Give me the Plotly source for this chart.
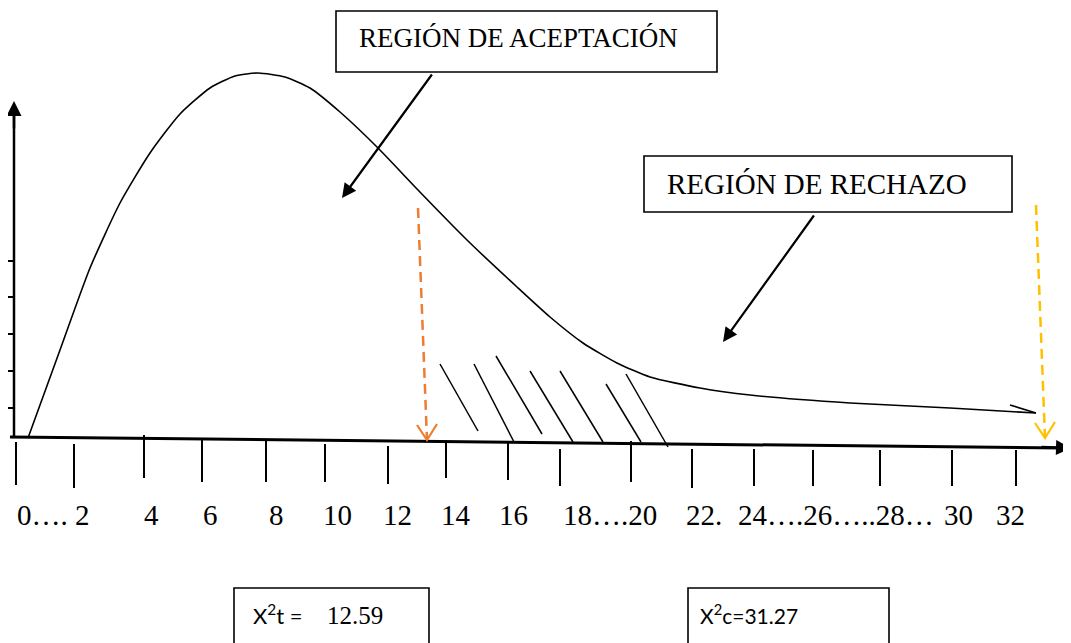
import plotly.graph_objects as go

# drawing units: x to the right, y downward (same scale as the 1071x643 page)
W, H = 1071, 643
PAD = 8  # page body margin, compensated in the axis ranges

# density curve (hand drawn chi-square shape)
curve_x = [28, 60, 90, 120, 150, 180, 210, 235, 258, 285, 310, 340, 378, 418,
           467, 517, 550, 583, 617, 650, 700, 750, 850, 950, 1036]
curve_y = [438, 350, 268, 203, 153, 114, 88, 76, 73, 77, 88, 112, 148, 190,
           240, 287, 317, 343, 363, 377, 388, 395, 403, 408, 413]
hook_x = [1036, 1010]
hook_y = [413, 405]

# hatching of the rejection zone
hatch_x0 = [440, 474, 496, 530, 560, 606, 626]
hatch_y0 = [364, 364, 356, 371, 371, 384, 374]
hatch_x1 = [478, 514, 542, 573, 603, 641, 668]
hatch_y1 = [431, 442, 434, 442, 442, 442, 447]

# horizontal axis and its ticks
x_axis_x = [10, 1062]
x_axis_y = [437, 448]
tick_x = [16, 74, 144, 202, 266, 325, 388, 446, 508, 560, 631, 692, 754, 813, 880, 952, 1016]
tick_top = [442, 444, 435, 440, 440, 444, 446, 440, 441, 449, 441, 449, 449, 450, 450, 450, 450]
tick_bot = [485, 488, 478, 482, 482, 482, 484, 478, 480, 486, 482, 488, 486, 486, 486, 486, 486]
tick_labels = ["0…. 2", "4", "6", "8", "10", "12", "14", "16", "18….20", "22.",
               "24….26…..28…", "30", "32"]
label_x = [15, 142, 201, 267, 321, 381, 439, 497, 561, 684, 736, 942, 994]
label_y = 515

# vertical axis and its ticks
y_axis_x = [14, 14]
y_axis_y = [437, 112]
ytick_y = [261, 297, 334, 371, 408]

# critical value markers
crit_t_x = [418, 427]
crit_t_y = [208, 440]
crit_c_x = [1036, 1045]
crit_c_y = [205, 438]

# text boxes: label, x0, y0, x1, y1, text x, text y, size
boxes = [
    ("REGIÓN DE ACEPTACIÓN", 336, 11, 717, 72, 357, 38, 27),
    ("REGIÓN DE RECHAZO", 644, 156, 1012, 212, 665, 184, 29),
]
value_boxes = [(234, 588, 429, 660), (688, 588, 889, 660)]
# value texts: text, x, y, font, size
value_texts = [
    ("X<sup>2</sup>t =", 251, 614, "Lato", 22),
    ("12.59", 325, 615, "Liberation Serif", 25),
    ("X<sup>2</sup>c=31.27", 698, 614, "Lato", 21),
]
pointer_tail = [(433, 73), (815, 214)]
pointer_tip = [(342, 198), (723, 342)]

fig = go.Figure()

fig.add_trace(go.Scatter(x=curve_x, y=curve_y, mode="lines",
                         line=dict(color="black", width=1.6, shape="spline", smoothing=0.6)))
fig.add_trace(go.Scatter(x=hook_x, y=hook_y, mode="lines", line=dict(color="black", width=1.6)))

hx, hy = [], []
for a, b, c, d in zip(hatch_x0, hatch_y0, hatch_x1, hatch_y1):
    hx += [a, c, None]
    hy += [b, d, None]
fig.add_trace(go.Scatter(x=hx, y=hy, mode="lines", line=dict(color="black", width=1.5)))

fig.add_trace(go.Scatter(x=x_axis_x, y=x_axis_y, mode="lines", line=dict(color="black", width=3)))
fig.add_trace(go.Scatter(x=y_axis_x, y=y_axis_y, mode="lines", line=dict(color="black", width=2.5)))

tx, ty = [], []
for x, t, b in zip(tick_x, tick_top, tick_bot):
    tx += [x, x, None]
    ty += [t, b, None]
fig.add_trace(go.Scatter(x=tx, y=ty, mode="lines", line=dict(color="black", width=2)))

yx, yy = [], []
for y in ytick_y:
    yx += [8, 14, None]
    yy += [y, y, None]
fig.add_trace(go.Scatter(x=yx, y=yy, mode="lines", line=dict(color="black", width=2)))

for xs, ys, col in [(crit_t_x, crit_t_y, "#ED7D31"), (crit_c_x, crit_c_y, "#FFC000")]:
    fig.add_trace(go.Scatter(x=xs, y=ys, mode="lines",
                             line=dict(color=col, width=2.5, dash="10px,6px")))
    # open V head
    fig.add_trace(go.Scatter(x=[xs[1] - 10, xs[1], xs[1] + 10], y=[ys[1] - 15, ys[1], ys[1] - 16],
                             mode="lines", line=dict(color=col, width=2.2)))

# axis arrowheads
fig.add_annotation(x=14, y=101, ax=14, ay=130, xref="x", yref="y", axref="x", ayref="y",
                   text="", showarrow=True, arrowhead=2, arrowsize=1.2, arrowwidth=2.5, arrowcolor="black")
fig.add_annotation(x=1071, y=448, ax=1040, ay=447, xref="x", yref="y", axref="x", ayref="y",
                   text="", showarrow=True, arrowhead=2, arrowsize=1.2, arrowwidth=2.5, arrowcolor="black")

for (ax_, ay_), (x_, y_) in zip(pointer_tail, pointer_tip):
    fig.add_annotation(x=x_, y=y_, ax=ax_, ay=ay_, xref="x", yref="y", axref="x", ayref="y",
                       text="", showarrow=True, arrowhead=2, arrowsize=1.3, arrowwidth=2.2,
                       arrowcolor="black")

for text, x0, y0, x1, y1, tx_, ty_, size in boxes:
    fig.add_shape(type="rect", x0=x0, y0=y0, x1=x1, y1=y1, line=dict(color="black", width=1.6),
                  fillcolor="white", layer="below")
    fig.add_annotation(x=tx_, y=ty_, text=text, showarrow=False, xanchor="left", yanchor="middle",
                       font=dict(family="Liberation Serif", size=size, color="black"))

for x0, y0, x1, y1 in value_boxes:
    fig.add_shape(type="rect", x0=x0, y0=y0, x1=x1, y1=y1, line=dict(color="black", width=1.6))
for text, x, y, fam, size in value_texts:
    fig.add_annotation(x=x, y=y, text=text, showarrow=False, xanchor="left", yanchor="middle",
                       font=dict(family=fam, size=size, color="black"))

for lab, x in zip(tick_labels, label_x):
    fig.add_annotation(x=x, y=label_y, text=lab, showarrow=False, xanchor="left", yanchor="middle",
                       font=dict(family="Liberation Serif", size=29, color="black"))

fig.update_layout(
    width=W, height=H, margin=dict(l=0, r=0, t=0, b=0),
    paper_bgcolor="white", plot_bgcolor="white", showlegend=False,
    xaxis=dict(range=[PAD, W + PAD], visible=False, fixedrange=True),
    yaxis=dict(range=[H + PAD, PAD], visible=False, fixedrange=True),
)

fig.write_html("out.html")
